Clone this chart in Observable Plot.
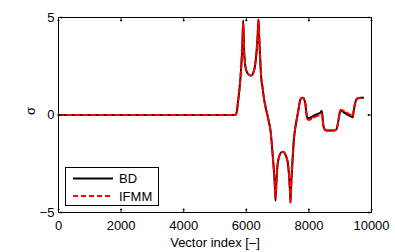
<!DOCTYPE html>
<html>
<head>
<meta charset="utf-8">
<script src="https://cdn.jsdelivr.net/npm/d3@7"></script>
<script src="https://cdn.jsdelivr.net/npm/@observablehq/plot@0.6"></script>
<style>
  html, body { margin: 0; padding: 0; background: #fff; }
  #chart { position: relative; width: 395px; height: 252px; }
  svg { font-family: "Liberation Sans", Arial, sans-serif; }
</style>
</head>
<body>
<div id="chart"></div>
<script>
// Data
const vectorIndex = [0, 5650, 5700, 5730, 5780, 5815, 5850, 5875, 5900, 5915,
  5930, 5950, 5975, 6020, 6080, 6140, 6190, 6230, 6265, 6300,
  6330, 6360, 6390, 6410, 6432, 6455, 6475, 6520, 6560, 6610,
  6667, 6720, 6773, 6805, 6850, 6880, 6905, 6933, 6960, 6990,
  7030, 7080, 7140, 7190, 7240, 7290, 7330, 7370, 7395, 7412,
  7440, 7475, 7518, 7570, 7626, 7680, 7720, 7760, 7810, 7860,
  7890, 7920, 7950, 8000, 8100, 8200, 8300, 8370, 8400, 8420,
  8450, 8490, 8560, 8700, 8800, 8870, 8920, 8960, 8990, 9020,
  9100, 9200, 9300, 9380, 9400, 9430, 9470, 9520, 9580, 9650,
  9730];
const sigmaBD = [0, 0, 0.2, 0.6, 1.3, 1.95, 2.8, 3.6, 4.85, 4.2,
  3.3, 2.8, 2.45, 2.2, 2.07, 2.02, 2.05, 2.2, 2.4, 2.8,
  3.3, 4.0, 4.9, 4.1, 3.3, 2.5, 1.95, 1.4, 0.9, 0.45,
  0.05, -0.35, -0.8, -1.3, -2.2, -2.8, -3.4, -4.4, -3.5, -2.7,
  -2.25, -2.0, -1.9, -1.9, -2.0, -2.2, -2.5, -3.2, -3.9, -4.4,
  -3.4, -2.4, -1.3, -0.6, -0.1, 0.4, 0.75, 0.87, 0.88, 0.75,
  0.55, 0.1, -0.15, -0.15, -0.08, 0.0, 0.07, 0.12, 0.2, 0.15,
  -0.4, -0.7, -0.8, -0.8, -0.8, -0.75, -0.5, -0.1, 0.15, 0.22,
  0.15, 0.05, -0.05, -0.1, -0.12, 0.2, 0.55, 0.8, 0.86, 0.88,
  0.88];
const sigmaIFMM = [0, 0, 0.2, 0.6, 1.3, 1.95, 2.8, 3.6, 4.7, 4.2,
  3.3, 2.8, 2.45, 2.2, 2.07, 2.02, 2.05, 2.2, 2.4, 2.8,
  3.3, 4.0, 4.9, 4.1, 3.3, 2.5, 1.95, 1.4, 0.9, 0.45,
  0.05, -0.35, -0.8, -1.3, -2.2, -2.8, -3.4, -4.25, -3.5, -2.7,
  -2.25, -2.0, -1.9, -1.9, -2.0, -2.2, -2.5, -3.2, -3.9, -4.55,
  -3.4, -2.4, -1.3, -0.6, -0.1, 0.4, 0.75, 0.87, 0.88, 0.75,
  0.55, 0.1, -0.2, -0.25, -0.18, -0.1, -0.03, 0.02, 0.08, 0.05,
  -0.4, -0.7, -0.8, -0.8, -0.8, -0.75, -0.5, -0.1, 0.15, 0.27,
  0.22, 0.13, 0.03, -0.03, -0.05, 0.2, 0.55, 0.8, 0.86, 0.88,
  0.88];
const xTicks = [0, 2000, 4000, 6000, 8000, 10000];
const yTicks = [-5, 0, 5];
const seriesNames = ["BD", "IFMM"];
const seriesColors = ["#000000", "#ff0000"];

const bd = vectorIndex.map((x, i) => ({x, y: sigmaBD[i]}));
const ifmm = vectorIndex.map((x, i) => ({x, y: sigmaIFMM[i]}));

const tickLen = 3.5;
const plot = Plot.plot({
  width: 395,
  height: 252,
  marginLeft: 58,
  marginRight: 24,
  marginTop: 17,
  marginBottom: 40,
  style: {fontFamily: "'Liberation Sans', Arial, sans-serif", fontSize: "13px", background: "#fff", color: "#000"},
  x: {domain: [0, 10000], ticks: xTicks},
  y: {domain: [-5, 5], ticks: yTicks},
  marks: [
    Plot.line(bd, {x: "x", y: "y", stroke: seriesColors[0], strokeWidth: 2, curve: "monotone-x"}),
    Plot.line(ifmm, {x: "x", y: "y", stroke: seriesColors[1], strokeWidth: 2, strokeDasharray: "5,3", curve: "monotone-x"}),
    Plot.frame({stroke: "#000", strokeWidth: 1}),
    // inward ticks (MATLAB style)
    Plot.vector(xTicks, {x: d => d, y: -5, length: tickLen, rotate: 0, anchor: "start", stroke: "#000", strokeWidth: 1}),
    Plot.vector(xTicks, {x: d => d, y: 5, length: tickLen, rotate: 180, anchor: "start", stroke: "#000", strokeWidth: 1}),
    Plot.vector(yTicks, {x: 0, y: d => d, length: tickLen, rotate: 90, anchor: "start", stroke: "#000", strokeWidth: 1}),
    Plot.vector(yTicks, {x: 10000, y: d => d, length: tickLen, rotate: -90, anchor: "start", stroke: "#000", strokeWidth: 1}),
    Plot.axisX(xTicks, {tickSize: 0, tickPadding: 8, fontSize: 13, label: null, tickFormat: d => String(d)}),
    Plot.axisY(yTicks, {tickSize: 0, tickPadding: 4, fontSize: 13, label: null, tickFormat: d => d < 0 ? "\u2212" + Math.abs(d) : String(d)}),
    Plot.text(["Vector index [\u2013]"], {frameAnchor: "bottom", dy: 34, lineAnchor: "bottom", fontSize: 13, fill: "#000"}),
    Plot.text(["\u03c3"], {frameAnchor: "left", dx: -28, rotate: -90, fontSize: 13, fill: "#000"})
  ]
});
document.getElementById("chart").appendChild(plot);

// Legend inside the plot area (lower left)
const svg = d3.select(plot);
const lg = svg.append("g")
  .attr("font-family", "'Liberation Sans', Arial, sans-serif")
  .attr("font-size", 13)
  .attr("text-anchor", "start");
lg.append("rect").attr("x", 65.5).attr("y", 167.5).attr("width", 93).attr("height", 38)
  .attr("fill", "#fff").attr("stroke", "#000").attr("stroke-width", 1);
seriesNames.forEach((name, i) => {
  const yy = 178.5 + i * 17.5;
  lg.append("line").attr("x1", 73).attr("x2", 113).attr("y1", yy).attr("y2", yy)
    .attr("stroke", seriesColors[i]).attr("stroke-width", 2)
    .attr("stroke-dasharray", i === 0 ? null : "5,3");
  lg.append("text").attr("x", 119).attr("y", yy + 4.6)
    .attr("fill", "#000").attr("text-anchor", "start").style("font-size", "13px").text(name);
});
</script>
</body>
</html>
